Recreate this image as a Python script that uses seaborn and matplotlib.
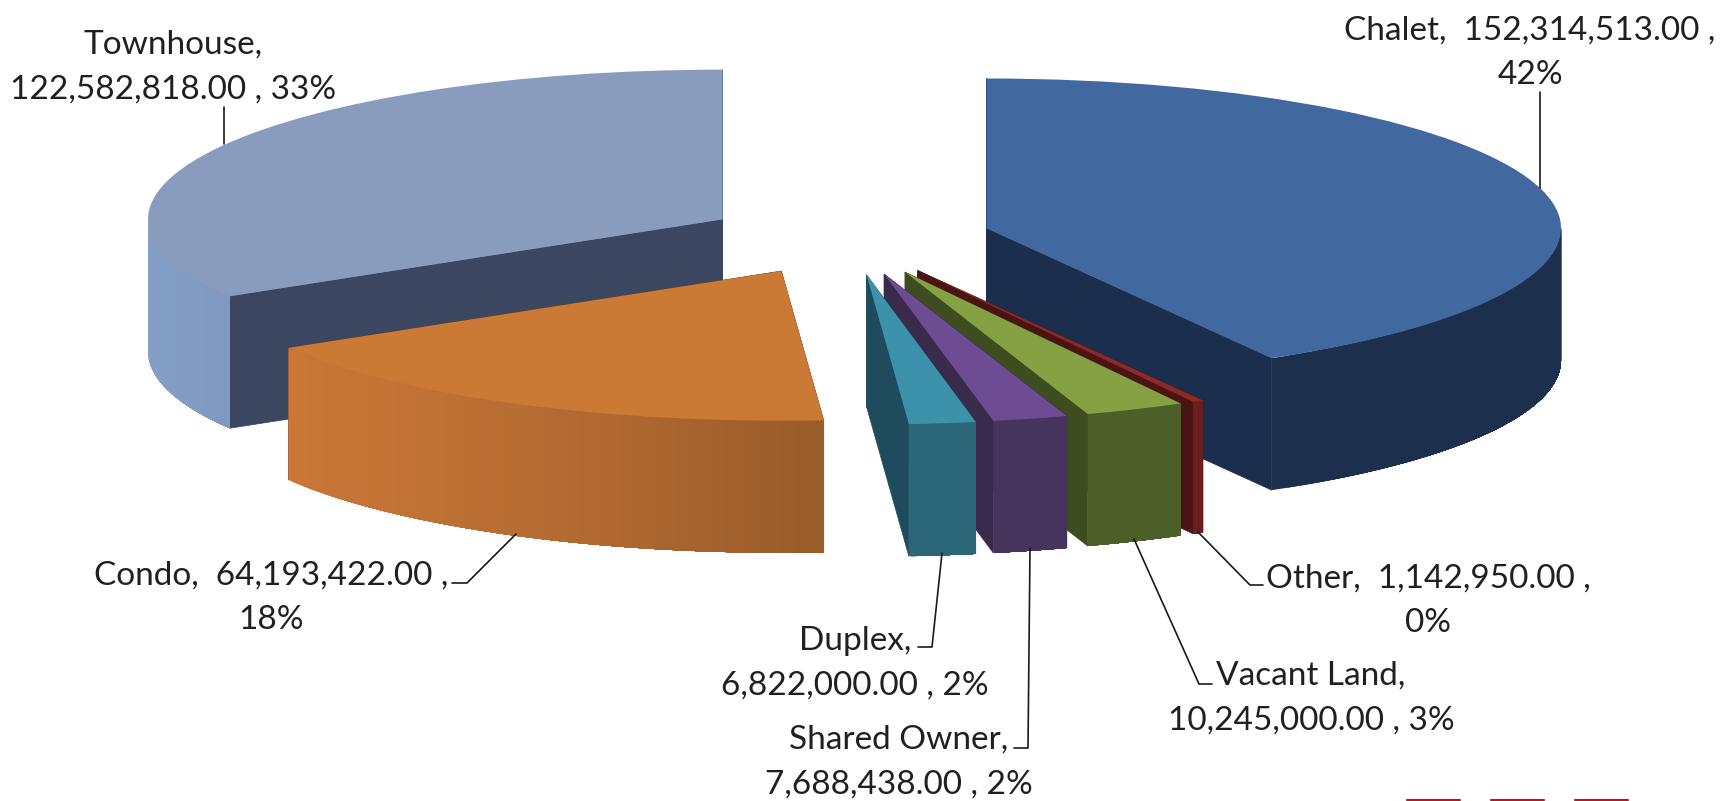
import numpy as np
import matplotlib
matplotlib.use("Agg")
import matplotlib.pyplot as plt
from matplotlib.colors import to_rgb
from matplotlib.lines import Line2D
import seaborn as sns

# clockwise from 12 o'clock
names = ["Chalet", "Other", "Vacant Land", "Shared Owner", "Duplex", "Condo", "Townhouse"]
values = [152314513.00, 1142950.00, 10245000.00, 7688438.00, 6822000.00, 64193422.00, 122582818.00]

label_texts = [
    "Chalet,  152,314,513.00 ,\n42%",
    "Other,  1,142,950.00 ,\n0%",
    "Vacant Land,\n10,245,000.00 , 3%",
    "Shared Owner,\n7,688,438.00 , 2%",
    "Duplex,\n6,822,000.00 , 2%",
    "Condo,  64,193,422.00 ,\n18%",
    "Townhouse,\n122,582,818.00 , 33%",
]
top_colors = ["#41699f", "#8c2a28", "#86a044", "#6d4c94", "#3c92ab", "#cb7a36", "#8a9cbe"]
cut_colors = ["#1b2e4e", "#4a1414", "#3e4d20", "#3a2a4c", "#1e4c5c", "#6b4020", "#3b4760"]
# rim shade at the left and right end of the front of each slice
rim_left = ["#1c2f4c", "#6a1f1e", "#4c5f28", "#47345c", "#2b6778", "#c97636", "#84a0c6"]
rim_right = ["#1c2f4c", "#6a1f1e", "#4c5f28", "#47345c", "#2b6778", "#995c2b", "#8199c0"]
# back to front
draw_order = ["Townhouse", "Chalet", "Other", "Vacant Land", "Shared Owner", "Duplex", "Condo"]

W, H = 1726, 801
CX, CY = 847.6, 237.8   # pie centre in pixels
RX, RY = 574.6, 149.7   # one data unit in pixels
DEPTH = 132 / RY

sns.set_theme(style="white")
plt.rcParams["font.family"] = ["Lato", "DejaVu Sans"]

fig = plt.figure(figsize=(W / 100, H / 100), dpi=100, facecolor="white")
ax = fig.add_axes([0, 0, 1, 1])
wedges, _ = ax.pie(values, explode=[0.25] * len(values), colors=top_colors,
                   startangle=90, counterclock=False, radius=1)
ax.set_aspect("auto")
ax.set_xlim(-CX / RX, (W - CX) / RX)
ax.set_ylim((CY - H) / RY, CY / RY)
ax.axis("off")


def arc(w, a):
    a = np.radians(a)
    return w.center[0] + w.r * np.cos(a), w.center[1] + w.r * np.sin(a)


for i, w in enumerate(wedges):
    z = 10 + draw_order.index(names[i]) * 10
    w.set_zorder(z + 3)
    w.set_edgecolor("none")
    cx, cy = w.center
    # cut faces
    for a in (w.theta1, w.theta2):
        x, y = arc(w, a)
        ax.fill([cx, x, x, cx], [cy, y, y - DEPTH, cy - DEPTH],
                color=cut_colors[i], lw=0.5, zorder=z)
    # outer rim, only the part facing us, shaded from left to right
    c0, c1 = np.array(to_rgb(rim_left[i])), np.array(to_rgb(rim_right[i]))
    edges = np.linspace(w.theta1, w.theta2, 91)
    front = [k for k in range(90) if np.sin(np.radians((edges[k] + edges[k + 1]) / 2)) < 0]
    for n, k in enumerate(front):
        t = (n / max(len(front) - 1, 1)) ** 1.5
        xa, ya = arc(w, edges[k])
        # each strip runs on to the end so that no seam shows between strips
        xb, yb = arc(w, edges[front[-1] + 1])
        arc_a = np.linspace(edges[k], edges[front[-1] + 1], 60)
        xs, ys = arc(w, arc_a)
        ax.fill(np.r_[xs, xs[::-1]], np.r_[ys, ys[::-1] - DEPTH],
                facecolor=c0 * (1 - t) + c1 * t, edgecolor="none", zorder=z + 1)

text_pos = [(1530, 53), (1428, 601), (1311, 698), (899, 762), (855, 663), (271, 598), (173, 67)]
leaders = [
    [(1540, 92), (1540, 188)],
    [(1198, 532), (1250, 585), (1263, 585)],
    [(1134, 539), (1199, 684), (1212, 684)],
    [(1030, 548), (1028, 748), (1014, 748)],
    [(942, 553), (932, 647), (918, 647)],
    [(516, 534), (467, 583), (452, 583)],
    [(224, 107), (224, 144)],
]
for txt, (x, y) in zip(label_texts, text_pos):
    fig.text(x / W, 1 - y / H, txt, ha="center", va="center", fontsize=24,
             color="#231f20", linespacing=1.62, zorder=200)
for pts in leaders:
    xs = [p[0] / W for p in pts]
    ys = [1 - p[1] / H for p in pts]
    fig.add_artist(Line2D(xs, ys, color="#1a1a1a", lw=1.2, zorder=190))

# red slivers at the bottom edge
for x0, x1 in [(1407, 1460), (1491, 1544), (1575, 1628)]:
    fig.add_artist(Line2D([x0 / W, x1 / W], [1 - 800 / H] * 2, color="#c0141f", lw=1.5))

fig.savefig("out.png", dpi=100)
